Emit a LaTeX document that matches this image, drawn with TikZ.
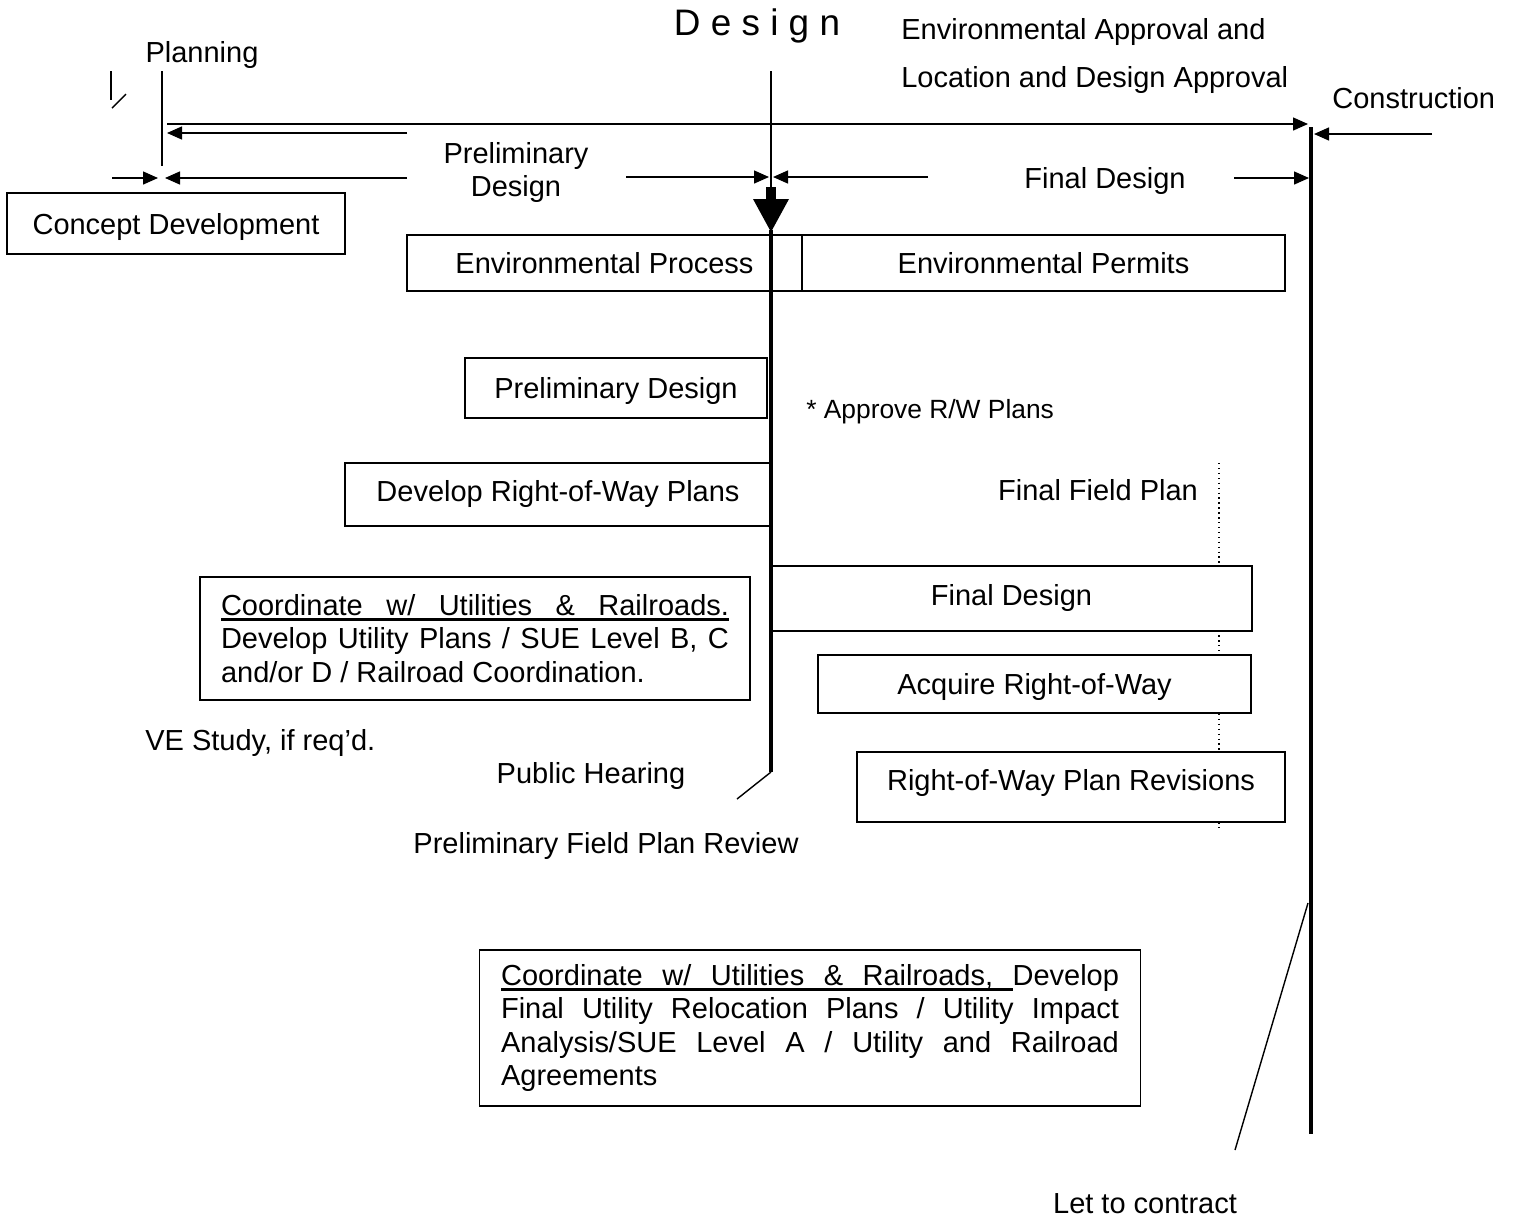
\documentclass[tikz,border=0pt]{standalone}
\usepackage{fontspec}
\setmainfont{Liberation Sans}
\usetikzlibrary{arrows.meta}
\hyphenpenalty=10000
\exhyphenpenalty=10000
\tolerance=9999
\frenchspacing
% underlined word and underlined stretchable space
\newcommand{\ulw}[1]{\setbox0=\hbox{#1}\rlap{\vrule height -1.7pt depth 3.1pt width \wd0}\box0\relax}
\newcommand{\ulsp}{\leaders\vrule height -1.7pt depth 3.1pt\hskip\fontdimen2\font plus\fontdimen3\font minus\fontdimen4\font\relax}

\begin{document}
\begin{tikzpicture}[x=0.02cm, y=-0.02cm, font=\fontsize{16.5}{19}\selectfont,
  every node/.style={inner sep=0pt},
  stagebox/.style={draw, fill=white, line width=0.9pt, text height=0.42cm, text depth=0pt},
  notebox/.style={draw, fill=white, line width=0.9pt, align=justify, inner xsep=0.42cm},
  dim/.style={line width=0.8pt, -{Triangle[length=0.3cm,width=0.26cm]}},
  thinline/.style={line width=0.8pt},
  milestone/.style={line width=2.2pt}]
\useasboundingbox (0,0) rectangle (1513,1218);

% milestones
\coordinate (plantop) at (162,71);
\coordinate (planbot) at (162,166);
\coordinate (destop) at (771,71);
\coordinate (desbot) at (771,772);
\coordinate (contop) at (1311,127);
\coordinate (conbot) at (1311,1134);

\draw[dotted, line width=0.8pt] (1219,463) -- (1219,828);

% stages
\node[stagebox, minimum width=6.76cm, minimum height=1.22cm] (concept) at (176,223.5) {Concept Development};
\node[stagebox, minimum width=7.9cm, minimum height=1.12cm] (envproc) at (604.5,263) {Environmental Process};
\node[stagebox, minimum width=9.66cm, minimum height=1.12cm] (envperm) at (1043.5,263) {Environmental Permits};
\node[stagebox, minimum width=6.04cm, minimum height=1.2cm] (prelim) at (616,388) {Preliminary Design};
\node[stagebox, minimum width=8.52cm, minimum height=1.26cm, text depth=0.14cm] (rwplans) at (558,494.5) {Develop Right-of-Way Plans};
\node[stagebox, minimum width=9.62cm, minimum height=1.3cm, text depth=0.16cm] (findes) at (1011.5,598.5) {Final Design};
\node[stagebox, minimum width=8.66cm, minimum height=1.16cm] (acquire) at (1034.5,684) {Acquire Right-of-Way};
\node[stagebox, minimum width=8.56cm, minimum height=1.4cm, text depth=0.28cm] (revis) at (1071,787) {Right-of-Way Plan Revisions};

\node[notebox, text width=10.16cm, minimum height=2.46cm] (utila) at (475,638.5)
  {\ulw{Coordinate}\ulsp\ulw{w/}\ulsp\ulw{Utilities}\ulsp\ulw{\&}\ulsp\ulw{Railroads.} Develop Utility Plans / SUE Level B, C and/or D / Railroad Coordination.};
\node[notebox, text width=12.36cm, minimum height=3.12cm, inner xsep=0.43cm] (utilb) at (810,1028)
  {\ulw{Coordinate}\ulsp\ulw{w/}\ulsp\ulw{Utilities}\ulsp\ulw{\&}\ulsp\ulw{Railroads,}\ulsp Develop Final Utility Relocation Plans / Utility Impact Analysis/SUE Level A / Utility and Railroad Agreements};

% time spans
\draw[dim] (167,124) -- (1308,124);
\draw[dim] (407,133) -- (167,133);
\draw[dim] (112,178) -- (158,178);
\draw[dim] (407,178) -- (165,178);
\draw[dim] (626,177) -- (769,177);
\draw[dim] (928,177) -- (773,177);
\draw[dim] (1234,178) -- (1309,178);
\draw[dim] (1432,134) -- (1314,134);

% planning
\draw[thinline] (plantop) -- (planbot);
\draw[thinline] (111,71) -- (111,100);
\draw[thinline] (112,108) -- (126,94);

% design
\draw[thinline] (destop) -- (771,190);
\fill (766,187) rectangle (776,199);
\fill (753,199) -- (789,199) -- (771,232) -- cycle;
\draw[line width=2pt] (771,230) -- (desbot);
\draw[thinline] (desbot) -- (737,799);

% construction
\draw[milestone] (contop) -- (conbot);
\draw[thinline] (1308,903) -- (1235,1150);

% labels
\node[anchor=base] (planning) at (202,62) {Planning};
\node[anchor=base, font=\fontsize{21}{25}\selectfont] (design) at (757,35) {D e s i g n};
\node[anchor=base west] (envappr) at (901,39) {Environmental Approval and};
\node[anchor=base west] (locappr) at (901,87) {Location and Design Approval};
\node[anchor=base west] (constr) at (1332,108) {Construction};
\node[align=center, anchor=north] (prelimlbl) at (516,142) {Preliminary\\Design};
\node[anchor=base] (finlbl) at (1105,188) {Final Design};
\node[anchor=base west, font=\fontsize{15}{18}\selectfont] (apprrw) at (806,418.5) {* Approve R/W Plans};
\node[anchor=base] (ffplan) at (1098,500) {Final Field Plan};
\node[anchor=base west] (vestudy) at (145,750) {VE Study, if req'd.};
\node[anchor=base] (hearing) at (591,783) {Public Hearing};
\node[anchor=base] (pfpr) at (606,853) {Preliminary Field Plan Review};
\node[anchor=base] (letto) at (1145,1213) {Let to contract};
\end{tikzpicture}
\end{document}
